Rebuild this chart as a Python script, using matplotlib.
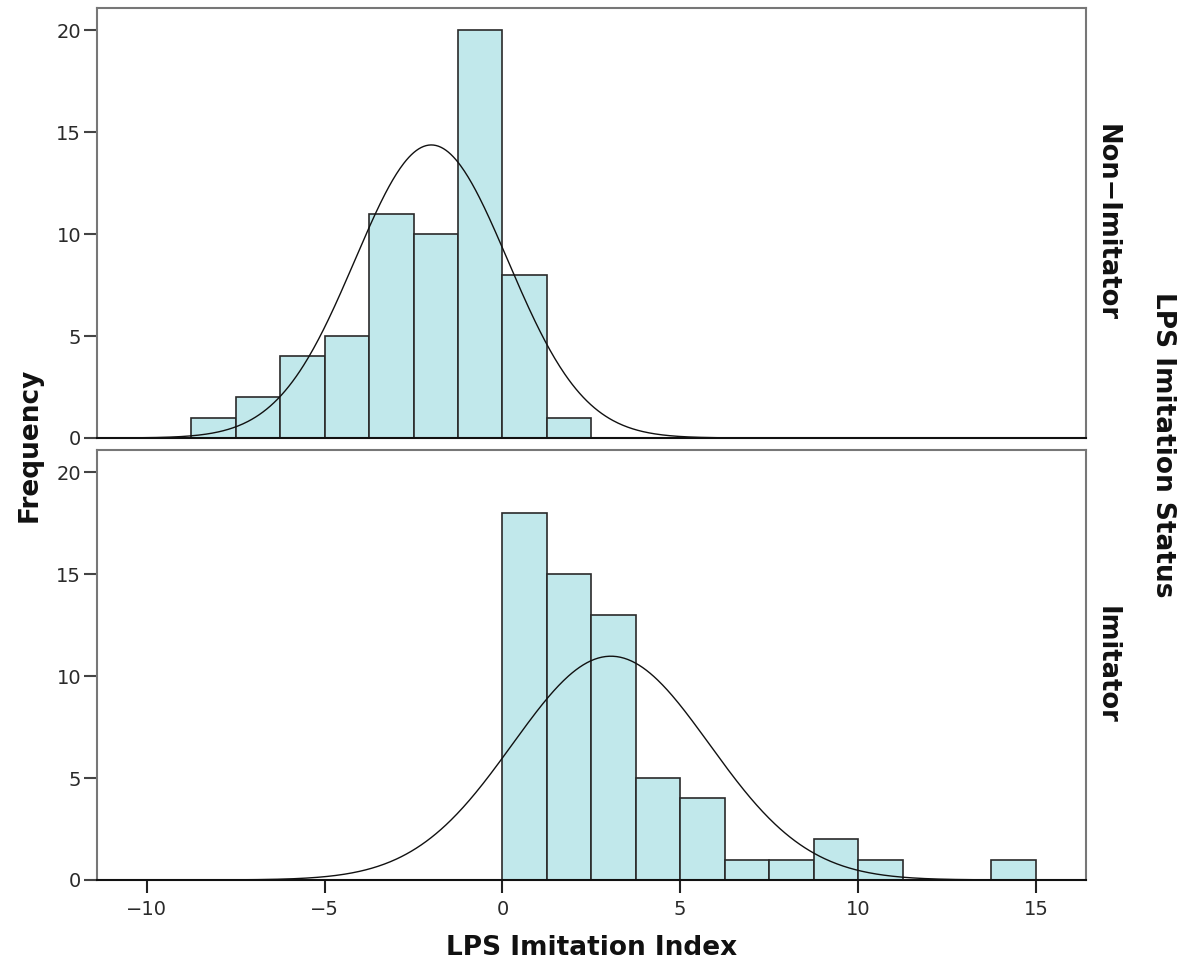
import numpy as np
import matplotlib
matplotlib.use("Agg")
import matplotlib.pyplot as plt

# Data
bin_width = 1.25
top_edges_start = -8.75
top_counts = [1, 2, 4, 5, 11, 10, 20, 8, 1]
bottom_edges_start = 0.0
bottom_counts = [18, 15, 13, 5, 4, 1, 1, 2, 1, 0, 0, 1]
top_mean, top_sd = -2.0, 2.15
bottom_mean, bottom_sd = 3.05, 2.77
panel_labels = ["Non\u2212Imitator", "Imitator"]
x_ticks = [-10, -5, 0, 5, 10, 15]
y_ticks = [0, 5, 10, 15, 20]

plt.rcParams['font.family'] = ['DejaVu Sans']
fig = plt.figure(figsize=(11.86, 9.67), dpi=100)
ax_top = fig.add_axes([0.0818, 0.5471, 0.9154 - 0.0818, 0.9917 - 0.5471])
ax_bot = fig.add_axes([0.0818, 0.0900, 0.9154 - 0.0818, 0.5346 - 0.0900])

bar_color = "#c1e8eb"
xlim = (-11.4, 16.4)
xs = np.linspace(xlim[0], xlim[1], 800)

def panel(ax, start, counts, mean, sd, label, show_x):
    n = sum(counts)
    edges = start + bin_width * np.arange(len(counts) + 1)
    lefts = edges[:-1]
    for l, c in zip(lefts, counts):
        if c > 0:
            ax.bar(l, c, width=bin_width, align='edge', color=bar_color,
                   edgecolor="#2a2a2a", linewidth=1.2, zorder=2)
    ys = n * bin_width / (sd * np.sqrt(2 * np.pi)) * np.exp(-0.5 * ((xs - mean) / sd) ** 2)
    ax.plot(xs, ys, color="#111111", linewidth=1.0, zorder=3)
    ax.set_xlim(*xlim)
    ax.set_ylim(0, 21.1)
    ax.set_yticks(y_ticks)
    ax.set_xticks(x_ticks)
    for s in ['top', 'right', 'left']:
        ax.spines[s].set_color("#777777")
        ax.spines[s].set_linewidth(1.5)
    ax.spines['bottom'].set_color("#111111")
    ax.spines['bottom'].set_linewidth(1.5)
    ax.tick_params(axis='y', length=9.5, width=1.5, color="#444444", labelsize=14,
                   labelcolor="#2a2a2a", pad=2)
    ax.tick_params(axis='x', length=9.5, width=1.5, color="#222222", labelsize=14,
                   labelcolor="#2a2a2a", pad=5)
    if not show_x:
        ax.tick_params(axis='x', length=0, labelbottom=False)
    ax.text(1.021, 0.5, label, transform=ax.transAxes, rotation=-90,
            ha='center', va='center', fontsize=18.5, fontweight='bold', color="#111111")

panel(ax_top, top_edges_start, top_counts, top_mean, top_sd, panel_labels[0], False)
panel(ax_bot, bottom_edges_start, bottom_counts, bottom_mean, bottom_sd, panel_labels[1], True)

fig.text(0.025, 0.54, "Frequency", rotation=90, ha='center', va='center',
         fontsize=19, fontweight='bold', color="#111111")
fig.text(0.499, 0.02, "LPS Imitation Index", ha='center', va='center',
         fontsize=19, fontweight='bold', color="#111111")
fig.text(0.981, 0.54, "LPS Imitation Status", rotation=-90, ha='center', va='center',
         fontsize=19, fontweight='bold', color="#111111")

fig.savefig("out.png", dpi=100)
